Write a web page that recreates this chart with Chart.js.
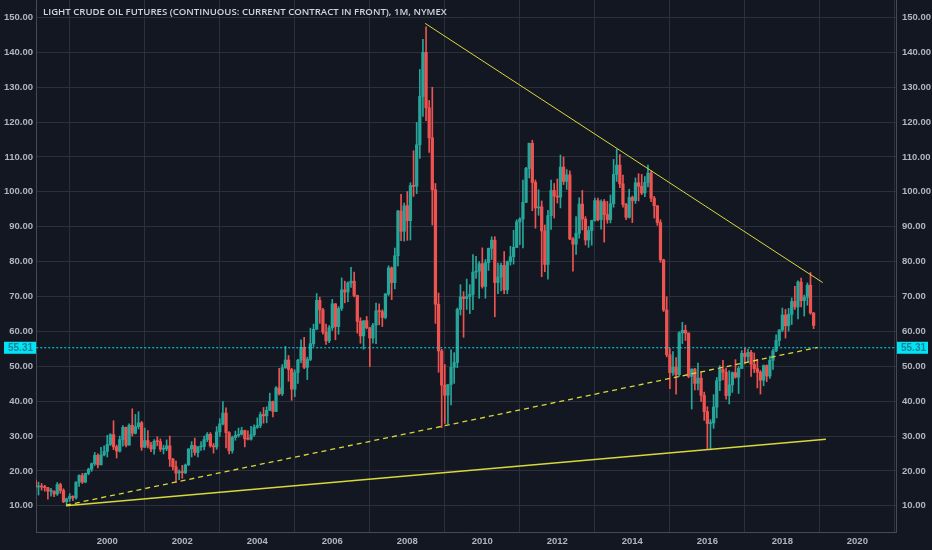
<!DOCTYPE html>
<html>
<head>
<meta charset="utf-8">
<title>Light Crude Oil Futures, 1M</title>
<script src="https://cdn.jsdelivr.net/npm/chart.js@4.4.1/dist/chart.umd.min.js"></script>
<style>
  html, body { margin: 0; padding: 0; background: #131722; }
  #wrap { width: 932px; height: 550px; }
</style>
</head>
<body>
<div id="wrap"><canvas id="oil-chart" width="932" height="550"></canvas></div>
<script>
// Monthly candles, CL1! continuous front contract, Feb 1998 .. Nov 2018
const startYear = 1998;
const startMonth = 2;

const opens = [
  17.2, 15.4, 15.6, 15.4, 15.2, 14.2, 14.2, 13.4, 16.1, 14.4, 11.2,                 // 1998
  12.05, 12.75, 12.3, 16.8, 18.7, 16.8, 19.3, 20.5, 22.1, 24.5, 21.75, 24.6,        // 1999
  25.6, 27.6, 30.4, 26.9, 25.7, 29.0, 32.5, 27.4, 33.1, 30.8, 32.7, 33.8,           // 2000
  26.8, 28.7, 27.4, 26.3, 28.5, 28.4, 26.25, 26.35, 27.2, 23.4, 21.2, 19.4,         // 2001
  19.8, 19.5, 21.7, 26.3, 27.3, 25.3, 26.9, 27.0, 29.0, 30.5, 27.2, 26.9,           // 2002
  31.2, 33.5, 36.6, 31.0, 25.8, 29.6, 30.2, 30.5, 31.6, 29.2, 29.1, 30.4,           // 2003
  32.5, 33.05, 36.2, 35.8, 37.4, 39.9, 37.05, 43.8, 42.1, 49.6, 51.8, 49.1,         // 2004
  43.45, 48.2, 51.75, 55.4, 49.7, 51.97, 56.5, 60.6, 68.9, 66.2, 59.8, 57.3,        // 2005
  61.04, 67.9, 61.4, 66.6, 71.9, 71.3, 73.9, 74.4, 70.3, 62.9, 58.7, 63.1,          // 2006
  61.05, 58.1, 61.8, 65.9, 65.7, 64.0, 70.7, 78.2, 74.0, 81.7, 94.5, 88.7,          // 2007
  96.0, 91.75, 101.8, 101.6, 113.5, 127.35, 140.0, 124.1, 115.5, 100.6, 67.8, 54.4, // 2008
  44.6, 41.7, 44.8, 49.7, 51.1, 66.3, 69.9, 69.45, 70.0, 70.6, 77.0, 77.3,          // 2009
  79.4, 72.9, 79.7, 83.8, 86.15, 74.0, 75.6, 78.95, 71.9, 80.0, 81.4, 84.1,         // 2010
  91.4, 92.2, 97.0, 106.7, 113.9, 102.7, 95.4, 95.7, 88.8, 79.2, 93.2, 100.4,       // 2011
  98.8, 98.5, 107.1, 103.0, 104.9, 86.5, 85.0, 88.1, 96.5, 92.2, 86.2, 88.9,        // 2012
  91.8, 97.5, 92.05, 97.2, 93.5, 92.0, 96.6, 105.0, 107.65, 102.3, 96.4, 92.7,      // 2013
  98.4, 97.5, 102.6, 101.6, 99.7, 102.7, 105.4, 98.2, 96.0, 91.2, 80.5, 66.15,      // 2014
  53.3, 48.2, 49.8, 47.6, 59.6, 60.3, 59.5, 47.1, 49.2, 45.1, 46.6, 41.65,          // 2015
  37.0, 33.6, 33.75, 38.3, 45.9, 49.1, 48.3, 41.6, 44.7, 48.2, 46.9, 49.4,          // 2016
  53.7, 52.8, 54.0, 50.6, 49.3, 48.3, 46.0, 50.2, 47.2, 51.7, 54.4, 57.4,           // 2017
  60.4, 64.7, 61.6, 64.9, 68.6, 67.0, 74.15, 68.8, 69.8, 73.25, 65.3                // 2018
];
const highs = [
  17.5, 16.8, 16.4, 15.9, 15.3, 15.0, 14.3, 16.7, 16.5, 14.9, 12.2,
  13.5, 12.9, 16.9, 18.9, 19.3, 19.4, 20.8, 22.3, 25.3, 24.9, 26.8, 27.2,
  30.2, 30.7, 34.4, 27.4, 30.0, 33.0, 32.6, 33.5, 37.8, 36.2, 37.0, 34.2,
  32.3, 31.6, 28.2, 29.0, 29.8, 29.2, 27.4, 28.9, 30.0, 23.6, 22.8, 20.3,
  21.6, 22.0, 26.4, 28.4, 29.4, 27.0, 28.4, 30.0, 31.0, 31.0, 27.9, 32.7,
  35.0, 39.9, 38.1, 31.3, 30.0, 31.4, 32.3, 32.5, 31.7, 31.5, 32.8, 33.2,
  35.2, 36.9, 38.2, 38.4, 42.3, 40.0, 44.2, 49.4, 50.5, 55.7, 53.1, 49.4,
  49.0, 52.0, 57.6, 58.3, 52.6, 60.95, 62.1, 70.85, 69.8, 66.6, 62.1, 61.7,
  69.2, 68.0, 67.1, 75.35, 74.4, 74.2, 78.4, 77.0, 70.4, 63.9, 62.7, 64.3,
  61.2, 62.3, 68.1, 67.9, 66.2, 70.9, 78.8, 78.5, 83.9, 94.7, 99.3, 96.8,
  100.1, 102.6, 111.8, 119.9, 135.1, 143.7, 147.3, 126.2, 130.0, 102.4, 71.0, 54.9,
  50.5, 43.2, 54.7, 53.9, 66.7, 73.4, 71.4, 75.0, 73.4, 82.0, 81.5, 80.0,
  83.95, 80.6, 83.9, 87.1, 87.15, 79.6, 79.6, 82.9, 80.2, 84.4, 89.0, 92.0,
  92.6, 103.4, 107.0, 114.0, 114.8, 103.4, 100.6, 97.4, 90.5, 94.7, 103.4, 102.4,
  103.7, 110.55, 110.0, 106.4, 106.0, 86.9, 92.9, 98.3, 100.4, 92.9, 90.1, 91.9,
  98.2, 98.2, 97.7, 97.8, 97.3, 99.1, 109.3, 112.2, 110.7, 104.8, 96.7, 100.75,
  98.8, 104.0, 105.2, 105.0, 104.4, 107.7, 106.0, 98.7, 96.1, 92.0, 80.7, 69.9,
  55.1, 54.2, 52.5, 59.9, 62.6, 61.8, 59.6, 49.3, 49.4, 50.9, 48.4, 42.6,
  38.4, 34.7, 41.9, 46.8, 50.2, 51.7, 49.5, 48.75, 48.4, 51.9, 50.0, 54.5,
  55.2, 54.9, 54.6, 53.8, 52.0, 48.8, 50.4, 50.4, 52.9, 54.9, 59.05, 60.5,
  66.7, 66.3, 66.6, 69.6, 72.9, 74.5, 75.3, 70.4, 73.9, 76.9, 65.4
];
const lows = [
  15.1, 13.1, 14.5, 14.2, 11.9, 12.8, 12.6, 13.0, 13.6, 10.9, 10.35,
  11.3, 11.5, 11.9, 15.6, 16.4, 16.6, 18.9, 19.9, 21.6, 20.9, 21.7, 24.3,
  24.0, 27.3, 26.1, 23.7, 25.4, 27.1, 26.9, 27.4, 30.0, 30.6, 32.0, 25.9,
  26.7, 26.6, 25.5, 24.8, 27.2, 25.6, 24.9, 25.8, 21.3, 20.3, 16.7, 17.5,
  17.9, 19.2, 21.6, 24.0, 24.5, 24.0, 25.9, 26.0, 28.4, 26.8, 25.1, 26.2,
  29.9, 33.2, 26.6, 24.9, 25.1, 28.8, 29.7, 30.3, 26.9, 28.9, 28.8, 29.9,
  32.2, 32.4, 33.7, 33.8, 37.3, 35.5, 37.0, 41.8, 41.6, 49.4, 45.7, 40.25,
  41.3, 45.1, 51.0, 49.3, 46.2, 51.6, 55.7, 60.6, 62.3, 59.2, 56.3, 56.8,
  60.3, 57.6, 59.2, 66.0, 68.2, 68.5, 72.6, 69.9, 59.5, 56.6, 54.9, 60.7,
  49.9, 56.6, 56.5, 61.9, 61.4, 63.6, 70.3, 69.1, 72.2, 78.8, 86.0, 85.9,
  86.1, 86.2, 98.7, 99.5, 109.6, 121.6, 120.4, 111.3, 90.5, 62.3, 48.3, 32.4,
  33.6, 33.55, 38.9, 45.1, 49.6, 64.7, 58.3, 66.3, 65.1, 66.2, 75.2, 69.5,
  72.4, 69.5, 77.5, 80.6, 64.2, 70.8, 71.6, 70.8, 70.8, 79.0, 79.3, 84.0,
  84.9, 83.9, 96.9, 104.0, 94.6, 89.6, 93.3, 75.7, 77.1, 74.95, 89.2, 92.5,
  96.8, 95.4, 102.1, 100.7, 86.3, 77.3, 82.1, 86.7, 89.1, 84.8, 84.1, 84.7,
  91.6, 91.7, 89.3, 85.6, 91.0, 91.1, 95.6, 103.0, 101.2, 95.6, 92.0, 92.5,
  91.2, 96.7, 97.4, 99.2, 98.6, 101.4, 97.2, 92.5, 90.4, 79.8, 65.7, 52.7,
  43.6, 47.4, 42.0, 47.1, 56.5, 57.4, 46.7, 37.75, 43.2, 43.2, 39.9, 34.5,
  26.2, 26.05, 32.2, 35.2, 43.0, 46.1, 40.6, 39.2, 42.5, 46.6, 42.2, 49.3,
  50.7, 51.2, 47.1, 48.2, 43.8, 42.05, 44.4, 45.6, 46.5, 49.1, 54.2, 55.8,
  59.9, 58.1, 60.1, 62.0, 66.3, 63.6, 67.0, 64.4, 67.5, 64.9, 60.8
];
const closes = [
  15.4, 15.6, 15.4, 15.2, 14.2, 14.2, 13.4, 16.1, 14.4, 11.2, 12.05,
  12.75, 12.3, 16.8, 18.7, 16.8, 19.3, 20.5, 22.1, 24.5, 21.75, 24.6, 25.6,
  27.6, 30.4, 26.9, 25.7, 29.0, 32.5, 27.4, 33.1, 30.8, 32.7, 33.8, 26.8,
  28.7, 27.4, 26.3, 28.5, 28.4, 26.25, 26.35, 27.2, 23.4, 21.2, 19.4, 19.8,
  19.5, 21.7, 26.3, 27.3, 25.3, 26.9, 27.0, 29.0, 30.5, 27.2, 26.9, 31.2,
  33.5, 36.6, 31.0, 25.8, 29.6, 30.2, 30.5, 31.6, 29.2, 29.1, 30.4, 32.5,
  33.05, 36.2, 35.8, 37.4, 39.9, 37.05, 43.8, 42.1, 49.6, 51.8, 49.1, 43.45,
  48.2, 51.75, 55.4, 49.7, 51.97, 56.5, 60.6, 68.9, 66.2, 59.8, 57.3, 61.04,
  67.9, 61.4, 66.6, 71.9, 71.3, 73.9, 74.4, 70.3, 62.9, 58.7, 63.1, 61.05,
  58.1, 61.8, 65.9, 65.7, 64.0, 70.7, 78.2, 74.0, 81.7, 94.5, 88.7, 96.0,
  91.75, 101.8, 101.6, 113.5, 127.35, 140.0, 124.1, 115.5, 100.6, 67.8, 54.4, 44.6,
  41.7, 44.8, 49.7, 51.1, 66.3, 69.9, 69.45, 70.0, 70.6, 77.0, 77.3, 79.4,
  72.9, 79.7, 83.8, 86.15, 74.0, 75.6, 78.95, 71.9, 80.0, 81.4, 84.1, 91.4,
  92.2, 97.0, 106.7, 113.9, 102.7, 95.4, 95.7, 88.8, 79.2, 93.2, 100.4, 98.8,
  98.5, 107.1, 103.0, 104.9, 86.5, 85.0, 88.1, 96.5, 92.2, 86.2, 88.9, 91.8,
  97.5, 92.05, 97.2, 93.5, 92.0, 96.6, 105.0, 107.65, 102.3, 96.4, 92.7, 98.4,
  97.5, 102.6, 101.6, 99.7, 102.7, 105.4, 98.2, 96.0, 91.2, 80.5, 66.15, 53.3,
  48.2, 49.8, 47.6, 59.6, 60.3, 59.5, 47.1, 49.2, 45.1, 46.6, 41.65, 37.0,
  33.6, 33.75, 38.3, 45.9, 49.1, 48.3, 41.6, 44.7, 48.2, 46.9, 49.4, 53.7,
  52.8, 54.0, 50.6, 49.3, 48.3, 46.0, 50.2, 47.2, 51.7, 54.4, 57.4, 60.4,
  64.7, 61.6, 64.9, 68.6, 67.0, 74.15, 68.8, 69.8, 73.25, 65.3, 61.7
];

// axis ticks
const yearTicks = [2000, 2002, 2004, 2006, 2008, 2010, 2012, 2014, 2016, 2018, 2020];
const priceTicks = [10, 20, 30, 40, 50, 60, 70, 80, 90, 100, 110, 120, 130, 140, 150];

// drawn lines: x in decimal years, y in USD
const resistanceX = [2008.475, 2019.075];
const resistanceY = [148.3, 74.0];
const supportX = [1998.9, 2019.16];
const supportY = [10.0, 29.1];
const dashedX = [1998.9, 2018.94];
const dashedY = [10.2, 55.4];
const markerPrice = 55.31;

const titleText = 'LIGHT CRUDE OIL FUTURES (CONTINUOUS: CURRENT CONTRACT IN FRONT), 1M, NYMEX';

const UP = '#26a69a';
const DOWN = '#ef5350';
const TREND = '#d8d83a';
const CYAN = '#00e5f5';
const BG = '#131722';
const GRID = '#2c303c';
const BORDER = '#464a55';
const TEXT = '#b2b5be';

const monthX = opens.map((_, i) => startYear + (startMonth - 1 + i) / 12);
const candleColor = i => closes[i] >= opens[i] ? UP : DOWN;

function twoPoints(xs, ys) {
  return xs.map((x, i) => ({ x: x, y: ys[i] }));
}

// background, title and the price tag of the horizontal line
const decorPlugin = {
  id: 'decor',
  beforeDraw(chart) {
    const ctx = chart.ctx;
    ctx.save();
    ctx.fillStyle = BG;
    ctx.fillRect(0, 0, chart.width, chart.height);
    ctx.restore();
  },
  afterDraw(chart) {
    const { ctx, chartArea, scales } = chart;
    ctx.save();
    ctx.font = '600 9.6px "Open Sans"';
    ctx.fillStyle = '#d1d4dc';
    ctx.textBaseline = 'middle';
    ctx.textAlign = 'left';
    ctx.fillText(titleText, 43, 12);

    const py = scales.y.getPixelForValue(markerPrice);
    const label = markerPrice.toFixed(2);
    ctx.fillStyle = CYAN;
    ctx.fillRect(4, py - 6, chartArea.left - 4, 12);
    ctx.fillRect(chartArea.right + 1, py - 6, 31, 12);
    ctx.fillStyle = '#1c7f96';
    ctx.font = 'bold 10px "Liberation Sans"';
    ctx.textAlign = 'right';
    ctx.fillText(label, chartArea.left - 3, py + 0.5);
    ctx.textAlign = 'left';
    ctx.fillText(label, chartArea.right + 5, py + 0.5);
    ctx.restore();
  }
};

const tickFont = { family: '"Liberation Sans"', size: 9.5, weight: 'bold' };

const chart = new Chart(document.getElementById('oil-chart'), {
  type: 'bar',
  data: {
    datasets: [
      {
        type: 'line',
        data: twoPoints(resistanceX, resistanceY),
        borderColor: TREND, borderWidth: 1, pointRadius: 0, order: 0
      },
      {
        type: 'line',
        data: twoPoints(supportX, supportY),
        borderColor: TREND, borderWidth: 1.5, pointRadius: 0, order: 0
      },
      {
        type: 'line',
        data: twoPoints(dashedX, dashedY),
        borderColor: TREND, borderWidth: 1.3, borderDash: [5, 4], pointRadius: 0, order: 0
      },
      {
        type: 'line',
        data: twoPoints([1998.0, 2021.2], [markerPrice, markerPrice]),
        borderColor: CYAN, borderWidth: 1, borderDash: [2, 2], pointRadius: 0, order: 0
      },
      {
        // bodies
        data: monthX.map((x, i) => ({ x: x, y: [opens[i], closes[i]] })),
        backgroundColor: ctx => candleColor(ctx.dataIndex),
        barThickness: 2.6, maxBarThickness: 2.6, minBarLength: 1,
        grouped: false, borderWidth: 0, order: 1
      },
      {
        // wicks
        data: monthX.map((x, i) => ({ x: x, y: [lows[i], highs[i]] })),
        backgroundColor: ctx => candleColor(ctx.dataIndex),
        barThickness: 1, maxBarThickness: 1,
        grouped: false, borderWidth: 0, order: 2
      }
    ]
  },
  options: {
    responsive: false,
    animation: false,
    layout: { padding: 0 },
    plugins: { legend: { display: false }, tooltip: { enabled: false } },
    scales: {
      x: {
        type: 'linear',
        min: 1998.1,
        max: 2021.03,
        offset: false,
        bounds: 'data',
        grid: { color: GRID, drawTicks: false },
        border: { display: true, color: BORDER },
        ticks: { color: TEXT, font: tickFont, padding: 4, maxRotation: 0, callback: v => String(v) },
        afterBuildTicks: s => { s.ticks = yearTicks.map(v => ({ value: v })); },
        afterFit: s => { s.height = 18; s.paddingLeft = 0; s.paddingRight = 0; }
      },
      y: {
        position: 'left',
        min: 2.5,
        max: 155,
        bounds: 'data',
        grid: { color: GRID, drawTicks: false },
        border: { display: true, color: BORDER },
        ticks: { color: TEXT, font: tickFont, padding: 3, callback: v => v.toFixed(2) },
        afterBuildTicks: s => { s.ticks = priceTicks.map(v => ({ value: v })); },
        afterFit: s => { s.width = 36; s.paddingTop = 0; s.paddingBottom = 0; }
      },
      y2: {
        position: 'right',
        min: 2.5,
        max: 155,
        bounds: 'data',
        grid: { display: false, drawTicks: false },
        border: { display: true, color: BORDER },
        ticks: { color: TEXT, font: tickFont, padding: 6, callback: v => v.toFixed(2) },
        afterBuildTicks: s => { s.ticks = priceTicks.map(v => ({ value: v })); },
        afterFit: s => { s.width = 36; s.paddingTop = 0; s.paddingBottom = 0; }
      }
    }
  },
  plugins: [decorPlugin]
});
</script>
</body>
</html>
